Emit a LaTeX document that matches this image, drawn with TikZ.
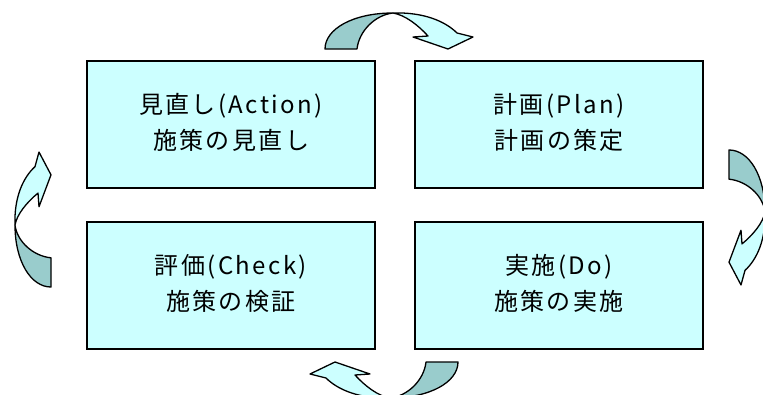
\documentclass[tikz,border=0pt]{standalone}
\usepackage{fontspec}
\newfontfamily\jpfont[LetterSpace=10]{Noto Sans CJK JP}
\definecolor{boxfill}{HTML}{CCFFFF}
\definecolor{arrdark}{HTML}{99CCCC}
\definecolor{arrlight}{HTML}{CCFFFF}
\tikzset{
  pdcabox/.style={draw=black, line width=2pt, fill=boxfill, minimum width=288pt, minimum height=127pt,
    inner sep=0pt},
  pdcatext/.style={align=center, inner sep=0pt, font=\jpfont\fontsize{24}{36}\selectfont},
  arrpart/.style={draw=black, line width=1.3pt, line join=round},
}
\newcommand\cyclearrow[4]{%
  \begin{scope}[shift={(#1,#2)}, rotate=#3, xscale=#4]
    \path[arrpart, fill=arrdark] (-68,36) .. controls (-68,16) and (-40,0) .. (0,0)
      .. controls (-18,2) and (-34,18) .. (-36,36) -- cycle;
    \path[arrpart, fill=arrlight] (0,0) .. controls (30,-1) and (52,8) .. (64,20)
      -- (80,24) -- (55,36) -- (20,24) -- (35,23) .. controls (25,12) and (12,2) .. (0,0) -- cycle;
  \end{scope}}
\begin{document}
\begin{tikzpicture}[x=1pt, y=-1pt]
  \clip (0,0) rectangle (763,394);
  \fill[white] (0,0) rectangle (763,394);
  \node[pdcabox] (act)  at (231,124.5) {};
  \node[pdcabox] (plan) at (559,124.5) {};
  \node[pdcabox] (chk)  at (231,285.5) {};
  \node[pdcabox] (do)   at (559,285.5) {};
  \node[pdcatext] (actT)  at ([yshift=2pt]act.center)  {見直し(Action)\\施策の見直し};
  \node[pdcatext] (planT) at ([yshift=2pt]plan.center) {計画(Plan)\\計画の策定};
  \node[pdcatext] (chkT)  at ([yshift=2pt]chk.center)  {評価(Check)\\施策の検証};
  \node[pdcatext] (doT)   at ([yshift=2pt]do.center)   {実施(Do)\\施策の実施};
  \cyclearrow{393}{13}{0}{1}
  \cyclearrow{765}{212}{-90}{0.912}
  \cyclearrow{390}{398}{180}{1}
  \cyclearrow{15}{225}{90}{0.912}
\end{tikzpicture}
\end{document}
